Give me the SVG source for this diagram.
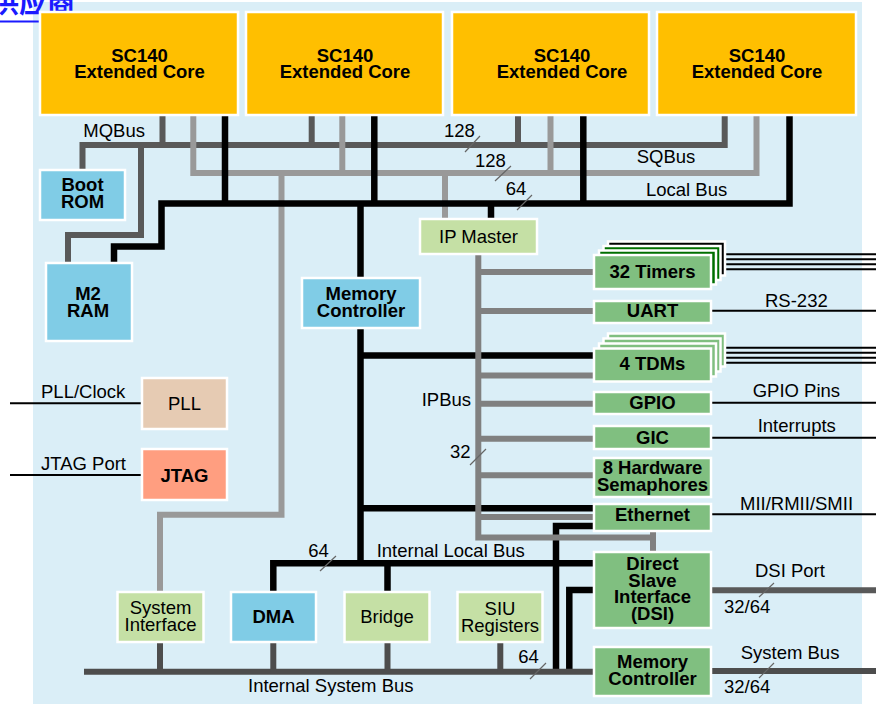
<svg xmlns="http://www.w3.org/2000/svg" width="876" height="704" viewBox="0 0 876 704">
<style>
.t{font-family:"Liberation Sans",Arial,sans-serif;font-size:18.5px;fill:#000}
.b{font-weight:bold}
.m{text-anchor:middle}
.box{stroke:#fff;stroke-width:2.5}
.core{fill:#FFBF00}
.blue{fill:#80CCE6}
.lg{fill:#C5E0A5}
.g{fill:#80BF80}
.dg{fill:#006F00}
.bk{fill:#000}
.w{fill:none;stroke-linejoin:miter;stroke-linecap:butt}
.blk{stroke:#000;stroke-width:6.5}
.mq{stroke:#595959;stroke-width:6}
.sq{stroke:#999;stroke-width:6}
.ip{stroke:#808080;stroke-width:6}
.sys{stroke:#4D4D4D;stroke-width:6}
.thin{stroke:#000;stroke-width:2}
.tick{stroke:#666;stroke-width:1.2}
</style>
<rect x="33" y="2" width="829" height="702" fill="#DAEEF7"/>
<g id="header-link">
<text x="-9" y="13" font-family="'Noto Sans CJK SC',sans-serif" font-size="28" font-weight="bold" fill="#1A1AFF">供应商</text>
<line x1="0" y1="21.5" x2="78" y2="21.5" stroke="#1A1AFF" stroke-width="2"/>
</g>
<g id="connectors" class="w">
<path class="mq" d="M82.5 170V145H724.7V115"/>
<path class="mq" d="M162.5 115V145M311.7 115V145M518 115V145"/>
<path class="mq" d="M141 145V235H68V263"/>
<path class="sq" d="M193.3 115V173H756.5V115"/>
<path class="sq" d="M342.3 115V173M550.5 115V173"/>
<path class="sq" d="M281.5 173V514.7H160V592"/>
<path class="sq" d="M445 173V219"/>
<path class="blk" d="M789.5 115V203.5H161.5V246.5H114V263"/>
<path class="blk" d="M225 115V203.5M374.3 115V203.5M583.3 115V203.5M491 203.5V219"/>
<path class="blk" d="M360.5 203.5V563.3"/>
<path class="blk" d="M360.5 355.5H595M360.5 508.3H595"/>
<path class="blk" d="M273.3 592V563.3H595M387.5 563.3V592"/>
<path class="blk" d="M595 526H556V672"/>
<path class="blk" d="M595 590H569.3V672"/>
<path class="ip" d="M478.3 254V537.5H653"/>
<path class="ip" d="M653 531V552"/>
<path class="ip" d="M478.3 272H595M478.3 311H595M478.3 375.5H595M478.3 403.7H595M478.3 438.7H595M478.3 475.3H595M478.3 517H595"/>
<path class="sys" d="M84 671.7H595"/>
<path class="sys" d="M160 642V671.7M273.3 642V671.7M387.5 642V671.7M500.3 642V671.7"/>
<path class="thin" d="M10 403.3H142M10 475H142"/>
<path class="thin" d="M725 254.3H876M720.5 259.3H876M716 264.3H876M711 269.3H876"/>
<path class="thin" d="M711 310.7H876"/>
<path class="thin" d="M725 347.7H876M720.5 352.7H876M716 357.7H876M711 362.7H876"/>
<path class="thin" d="M711 402.7H876M711 437.7H876M711 514.3H876"/>
<path class="mq" d="M711 590.3H876"/>
<path class="sys" d="M711 671H876"/>
<path class="tick" d="M465 152L480 136M495 181L511 166M517 210L532 195M470 465L486 449M320 571L336 556M530 679L546 663M759 597L774 583M759 678L774 663"/>
</g>
<g id="labels" class="t">
<text x="83.3" y="137">MQBus</text>
<text x="444" y="137">128</text>
<text x="475" y="166.7">128</text>
<text x="505.7" y="195">64</text>
<text x="636.7" y="163.3">SQBus</text>
<text x="646" y="196">Local Bus</text>
<text x="421.7" y="405.7">IPBus</text>
<text x="450" y="458.3">32</text>
<text x="308.3" y="556.7">64</text>
<text x="376.7" y="556.7">Internal Local Bus</text>
<text x="518.3" y="663.3">64</text>
<text x="248" y="691.7">Internal System Bus</text>
<text x="41" y="398.3">PLL/Clock</text>
<text x="41" y="470">JTAG Port</text>
<text x="765" y="306.7">RS-232</text>
<text x="752.7" y="396.7">GPIO Pins</text>
<text x="757.7" y="431.7">Interrupts</text>
<text x="740" y="510">MII/RMII/SMII</text>
<text x="755" y="577.3">DSI Port</text>
<text x="724" y="612.7">32/64</text>
<text x="740.7" y="659.3">System Bus</text>
<text x="724" y="693.3">32/64</text>
</g>
<g id="core1"><rect class="box core" x="40" y="12" width="198" height="103"/><text class="t b m" x="139.5" y="61.7">SC140</text><text class="t b m" x="139.5" y="78.3">Extended Core</text></g>
<g id="core2"><rect class="box core" x="246" y="12" width="197" height="103"/><text class="t b m" x="345" y="61.7">SC140</text><text class="t b m" x="345" y="78.3">Extended Core</text></g>
<g id="core3"><rect class="box core" x="452" y="12" width="197" height="103"/><text class="t b m" x="562" y="61.7">SC140</text><text class="t b m" x="562" y="78.3">Extended Core</text></g>
<g id="core4"><rect class="box core" x="657" y="12" width="199" height="103"/><text class="t b m" x="757" y="61.7">SC140</text><text class="t b m" x="757" y="78.3">Extended Core</text></g>
<g id="boot-rom"><rect class="box blue" x="40" y="170" width="85" height="50"/><text class="t b m" x="82.5" y="190.7">Boot</text><text class="t b m" x="82.5" y="207.5">ROM</text></g>
<g id="m2-ram"><rect class="box blue" x="46" y="263" width="86" height="78"/><text class="t b m" x="88" y="300">M2</text><text class="t b m" x="88" y="316.7">RAM</text></g>
<g id="ip-master"><rect class="box lg" x="420" y="219" width="117" height="35"/><text class="t m" x="478.5" y="243.3">IP Master</text></g>
<g id="memory-controller-1"><rect class="box blue" x="302" y="278" width="118" height="50"/><text class="t b m" x="361" y="300">Memory</text><text class="t b m" x="361" y="316.7">Controller</text></g>
<g id="pll"><rect class="box" x="142" y="378" width="85" height="51" fill="#E6CBB3"/><text class="t m" x="184.5" y="410">PLL</text></g>
<g id="jtag"><rect class="box" x="142" y="449" width="85" height="51" fill="#FF9E80"/><text class="t b m" x="184.5" y="481.7">JTAG</text></g>
<g id="system-interface"><rect class="box lg" x="117.5" y="592" width="86" height="50"/><text class="t m" x="160.5" y="614">System</text><text class="t m" x="160.5" y="630.7">Interface</text></g>
<g id="dma"><rect class="box blue" x="231" y="592" width="85" height="50"/><text class="t b m" x="273.5" y="622.7">DMA</text></g>
<g id="bridge"><rect class="box lg" x="344.5" y="592" width="85" height="50"/><text class="t m" x="387" y="622.7">Bridge</text></g>
<g id="siu-registers"><rect class="box lg" x="457.5" y="592" width="85" height="50"/><text class="t m" x="500" y="615">SIU</text><text class="t m" x="500" y="631.7">Registers</text></g>
<g id="timers">
<rect class="box bk" x="608" y="241.5" width="117" height="34"/>
<rect class="box dg" x="603.5" y="246" width="117" height="34"/>
<rect class="box dg" x="599" y="250.5" width="117" height="34"/>
<rect class="box g" x="594" y="255" width="117" height="34"/>
<text class="t b m" x="652.5" y="277.7">32 Timers</text></g>
<g id="uart"><rect class="box g" x="594" y="301" width="117" height="22"/><text class="t b m" x="652.5" y="317.3">UART</text></g>
<g id="tdms">
<rect class="box g" x="608" y="333.5" width="117" height="33"/>
<rect class="box g" x="603.5" y="338.5" width="117" height="33"/>
<rect class="box g" x="599" y="343.5" width="117" height="33"/>
<rect class="box g" x="594" y="348.5" width="117" height="33"/>
<text class="t b m" x="652.5" y="370">4 TDMs</text></g>
<g id="gpio"><rect class="box g" x="594" y="392" width="117" height="22"/><text class="t b m" x="652.5" y="409">GPIO</text></g>
<g id="gic"><rect class="box g" x="594" y="426" width="117" height="23"/><text class="t b m" x="652.5" y="444.3">GIC</text></g>
<g id="semaphores"><rect class="box g" x="594" y="458" width="117" height="39"/><text class="t b m" x="652.5" y="474">8 Hardware</text><text class="t b m" x="652.5" y="490.5">Semaphores</text></g>
<g id="ethernet"><rect class="box g" x="594" y="504" width="117" height="27"/><text class="t b m" x="652.5" y="520.7">Ethernet</text></g>
<g id="dsi"><rect class="box g" x="594" y="552" width="117" height="76"/><text class="t b m" x="652.5" y="570">Direct</text><text class="t b m" x="652.5" y="586.7">Slave</text><text class="t b m" x="652.5" y="603.4">Interface</text><text class="t b m" x="652.5" y="620">(DSI)</text></g>
<g id="memory-controller-2"><rect class="box g" x="594" y="647" width="117" height="49"/><text class="t b m" x="652.5" y="668.3">Memory</text><text class="t b m" x="652.5" y="685">Controller</text></g>
</svg>
